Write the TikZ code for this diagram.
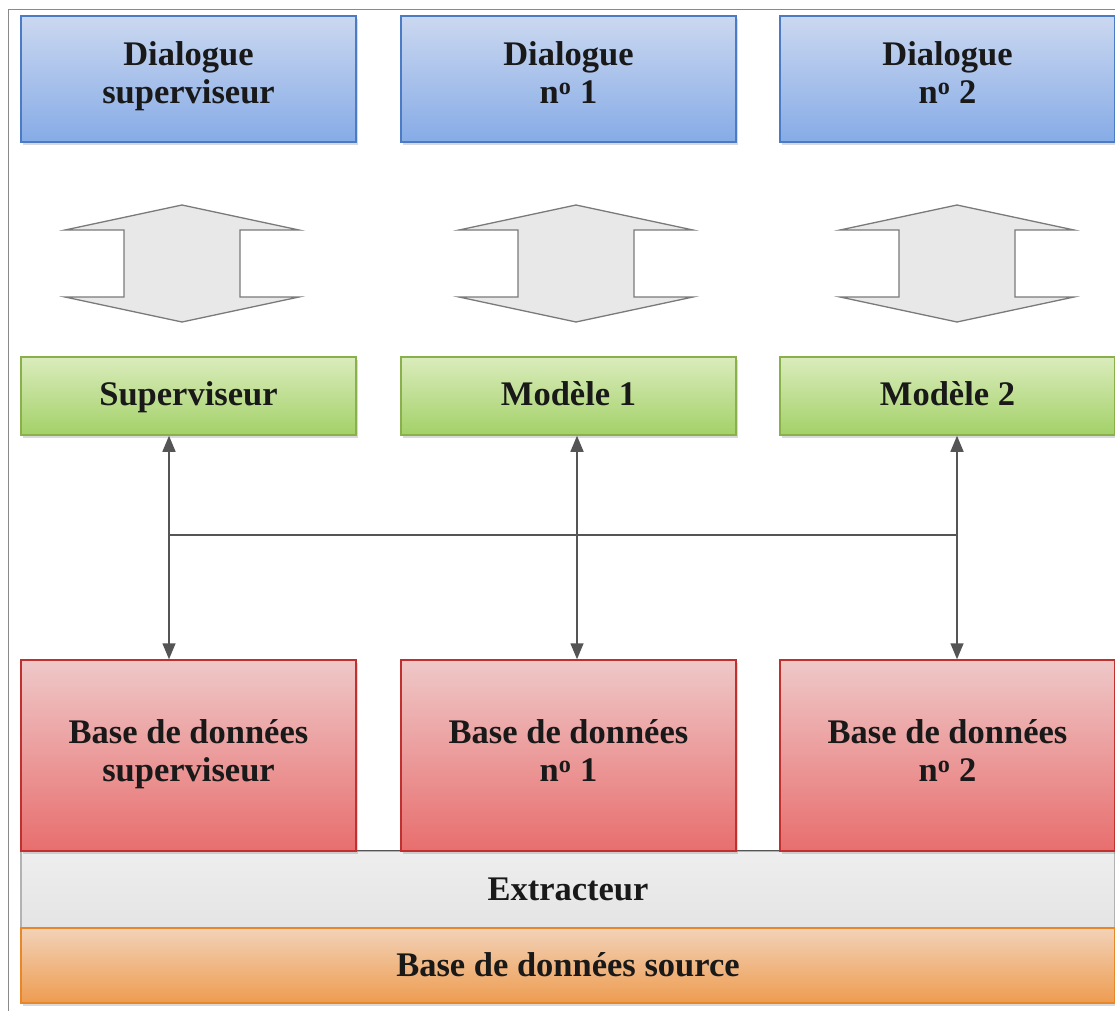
\documentclass[tikz,border=0pt]{standalone}
\usepackage{fontspec}
\setmainfont{Liberation Serif}
\usetikzlibrary{shadows,arrows.meta}
\definecolor{bluetop}{HTML}{CBD8F0}
\definecolor{bluebot}{HTML}{86ABE6}
\definecolor{blueline}{HTML}{4B7BC4}
\definecolor{greentop}{HTML}{DAECBC}
\definecolor{greenbot}{HTML}{A3D168}
\definecolor{greenline}{HTML}{8AB04C}
\definecolor{redtop}{HTML}{EFC8C8}
\definecolor{redbot}{HTML}{E86E6E}
\definecolor{redline}{HTML}{C0302F}
\definecolor{oratop}{HTML}{F2D2B8}
\definecolor{orabot}{HTML}{EE9C50}
\definecolor{oraline}{HTML}{E8862A}
\definecolor{graytop}{HTML}{EEEEEE}
\definecolor{graybot}{HTML}{E4E4E4}
\definecolor{connc}{HTML}{555555}
\definecolor{framec}{HTML}{8A8A8A}
\definecolor{arrowfill}{HTML}{E8E8E8}
\definecolor{arrowline}{HTML}{7A7A7A}
% strut: height #1, depth #2
\newcommand{\mystrut}[2]{\rule[-#2]{0pt}{\dimexpr#1+#2\relax}}
\begin{document}
\begin{tikzpicture}[x=1pt,y=-1pt,
  basebox/.style={rectangle, line width=1.5pt, font=\fontsize{34.5}{38}\selectfont\bfseries,
    text=black!90, align=center, inner sep=0pt, minimum width=335pt,
    execute at begin node=\mystrut{28pt}{10pt}, execute at end node=\mystrut{28pt}{10pt},
    drop shadow={shadow xshift=1.5pt, shadow yshift=-3pt, opacity=0.3}},
  bandbox/.style={basebox, minimum width=1094pt,
    execute at begin node=\mystrut{31pt}{7pt}, execute at end node=\mystrut{31pt}{7pt}},
  bluebox/.style={basebox, draw=blueline, top color=bluetop, bottom color=bluebot, minimum height=126pt,
    execute at begin node=\mystrut{26pt}{12pt}, execute at end node=\mystrut{26pt}{12pt}},
  greenbox/.style={basebox, draw=greenline, top color=greentop, bottom color=greenbot, minimum height=78pt},
  redbox/.style={basebox, draw=redline, top color=redtop, bottom color=redbot, minimum height=191pt},
  conn/.style={line width=1.5pt, draw=connc, {Triangle[width=13pt,length=16pt]}-{Triangle[width=13pt,length=16pt]}},
  hline/.style={line width=1.2pt, draw=connc},
  blockarrow/.pic={
    \draw[line width=1.3pt, draw=arrowline, fill=arrowfill, line join=miter]
      (0,-58.5) -- (117,-33.5) -- (58,-33.5) -- (58,33.5) -- (117,33.5) -- (0,58.5)
      -- (-117,33.5) -- (-58,33.5) -- (-58,-33.5) -- (-117,-33.5) -- cycle;
  }
]
\useasboundingbox (0,0) rectangle (1115,1011);
\draw[framec, line width=1pt] (8,1011) -- (8,10) -- (1115,10);

% bottom layers
\node[bandbox, minimum height=77pt, draw=gray!60, top color=graytop, bottom color=graybot,
      drop shadow={opacity=0}] (ext) at (568,889.5) {Extracteur};
\draw[line width=1.5pt, draw=connc] (ext.north west) -- (ext.north east);
\node[bandbox, minimum height=75pt, draw=oraline, top color=oratop, bottom color=orabot] (src) at (568,965.5) {Base de données source};

% dialogue boxes
\node[bluebox] (dsup) at (188.5,79) {Dialogue\\superviseur};
\node[bluebox] (d1) at (568.5,79) {Dialogue\\n\textsuperscript{o} 1};
\node[bluebox] (d2) at (947.5,79) {Dialogue\\n\textsuperscript{o} 2};

% block arrows
\pic at (182,263.5) {blockarrow};
\pic at (576,263.5) {blockarrow};
\pic at (957,263.5) {blockarrow};

% models
\node[greenbox] (msup) at (188.5,396) {Superviseur};
\node[greenbox] (m1) at (568.5,396) {Modèle 1};
\node[greenbox] (m2) at (947.5,396) {Modèle 2};

% databases
\node[redbox] (bsup) at (188.5,755.5) {Base de données\\superviseur};
\node[redbox] (b1) at (568.5,755.5) {Base de données\\n\textsuperscript{o} 1};
\node[redbox] (b2) at (947.5,755.5) {Base de données\\n\textsuperscript{o} 2};

% connectors
\coordinate (c1) at (169,535);
\coordinate (c2) at (577,535);
\coordinate (c3) at (957,535);
\draw[hline] (c1) -- (c3);
\draw[conn] (msup.south -| c1) -- (bsup.north -| c1);
\draw[conn] (m1.south -| c2) -- (b1.north -| c2);
\draw[conn] (m2.south -| c3) -- (b2.north -| c3);
\end{tikzpicture}
\end{document}
